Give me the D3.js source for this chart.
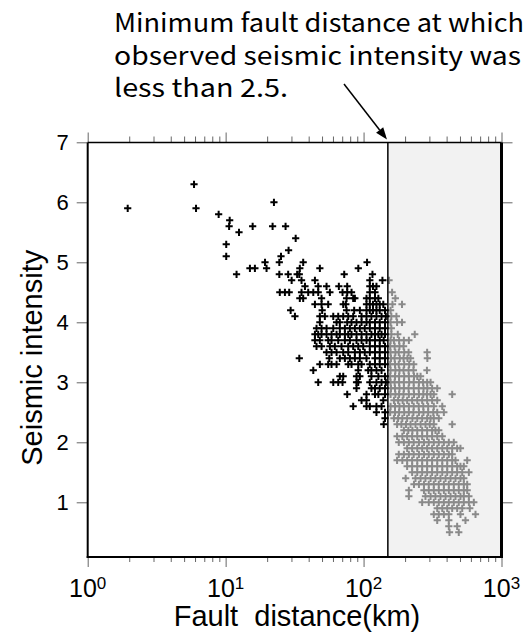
<!DOCTYPE html>
<html><head><meta charset="utf-8">
<script src="https://cdn.jsdelivr.net/npm/d3@7"></script>
<style>body{margin:0;background:#fff}svg{display:block}</style>
</head><body>
<svg id="c" width="528" height="639"></svg>
<script>
// ---- data ----
const thresholdKm = 150;
const intensityLevels = [6.3, 6.0, 5.9, 5.8, 5.7, 5.6, 5.5, 5.4, 5.3, 5.2, 5.1, 5.0, 4.9, 4.8, 4.7, 4.6, 4.5, 4.4, 4.3, 4.2, 4.1, 4.0, 3.9, 3.8, 3.7, 3.6, 3.5, 3.4, 3.3, 3.2, 3.1, 3.0, 2.9, 2.8, 2.7, 2.6, 2.5, 2.4, 2.3, 2.2, 2.1, 2.0, 1.9, 1.8, 1.7, 1.6, 1.5, 1.4, 1.3, 1.2, 1.1, 1.0, 0.9, 0.8, 0.7, 0.6, 0.5];
const distancesKm = [
  [5.9],
  [22.4],
  [1.95, 6.1],
  [8.9],
  [10.7],
  [10.6, 15.7, 21.9, 27.2],
  [12.5],
  [32.2],
  [10.1],
  [28.6],
  [10.1, 25.2],
  [19.3, 24.5, 36.5, 106],
  [15.0, 16.3, 19.8, 34.5, 48.2, 91.6],
  [12.0, 24.5, 28.4, 33.0, 34.2, 72.4, 116],
  [30.1, 35.5, 44.4, 111, 137, 153],
  [37.6, 46.9, 53.9, 66.2, 76.1, 111, 117, 124],
  [24.7, 26.9, 28.9, 35.5, 39.7, 43.2, 46.9, 57.0, 70.4, 76.1, 81.8, 111, 121, 161],
  [34.5, 36.5, 49.6, 75.3, 84.1, 86.5, 105, 111, 121, 128, 170],
  [44.4, 49.6, 55.4, 71.2, 74.4, 105, 111, 117, 124, 131, 139, 162, 190],
  [29.6, 50.1, 75.3, 85.5, 94.0, 105, 111, 117, 124, 131, 143, 157],
  [31.8, 48.2, 52.4, 60.3, 65.5, 71.2, 77.4, 84.1, 96.7, 105, 114, 124, 135, 145, 159, 173],
  [48.2, 63.7, 67.3, 76.1, 81.8, 88.9, 96.7, 105, 111, 121, 131, 143, 157, 175, 190],
  [45.6, 49.6, 53.9, 60.3, 67.3, 73.2, 79.6, 86.5, 94.0, 102, 111, 121, 131, 143, 159],
  [44.4, 46.9, 49.6, 53.9, 58.6, 63.7, 67.3, 73.2, 77.4, 81.8, 88.9, 96.7, 105, 114, 121, 128, 135, 143, 159, 177, 235],
  [44.4, 48.2, 55.4, 58.6, 65.5, 73.2, 79.6, 88.9, 96.7, 105, 111, 121, 131, 140, 157, 166, 181, 196, 213],
  [45.6, 49.6, 57.0, 61.9, 69.2, 77.4, 84.1, 91.5, 99.4, 111, 121, 131, 143, 156, 168, 182, 195],
  [53.9, 58.6, 63.7, 71.2, 77.4, 86.5, 94.0, 102, 111, 121, 131, 143, 157, 170, 180, 197, 212, 289],
  [34.2, 56.4, 67.3, 73.2, 79.6, 86.5, 94.0, 105, 121, 131, 143, 158, 168, 183, 195, 208, 219, 290],
  [48.2, 55.4, 58.6, 63.7, 77.4, 81.8, 91.5, 96.7, 111, 121, 131, 143, 156, 169, 180, 197, 214, 231],
  [43.2, 91.5, 108, 114, 124, 135, 157, 170, 182, 195, 212, 230, 288],
  [67.3, 71.2, 88.9, 94.0, 114, 128, 143, 156, 169, 181, 197, 213, 232, 245, 259],
  [46.9, 60.3, 65.5, 70.4, 88.9, 91.5, 111, 124, 135, 145, 157, 168, 181, 196, 214, 231, 252, 270, 289, 306],
  [88.9, 114, 121, 131, 143, 158, 169, 182, 196, 212, 231, 251, 272, 290, 314, 342],
  [76.1, 105, 121, 128, 143, 157, 170, 181, 195, 213, 232, 252, 271, 288, 306, 323, 439],
  [96.7, 105, 139, 166, 178, 192, 207, 225, 245, 266, 289, 314, 342],
  [84.1, 105, 111, 124, 135, 157, 169, 182, 196, 213, 231, 251, 271, 294, 323, 372],
  [124, 143, 156, 169, 181, 197, 213, 230, 252, 272, 294, 320, 342, 382],
  [143, 166, 178, 191, 207, 226, 245, 266, 289, 306, 323, 351],
  [140, 175, 188, 203, 219, 238, 259, 281, 302, 323, 439],
  [196, 211, 226, 245, 266, 289, 314, 332, 351],
  [175, 191, 207, 225, 245, 266, 289, 314, 342, 372],
  [180, 196, 213, 231, 252, 274, 297, 323, 351, 382, 415, 451],
  [207, 225, 245, 266, 289, 314, 342, 372, 404, 439, 477, 504],
  [180, 196, 213, 231, 252, 274, 297, 323, 351, 382, 415, 439],
  [175, 191, 207, 225, 245, 266, 289, 314, 342, 372, 404, 439, 464, 564],
  [207, 225, 245, 266, 289, 314, 342, 372, 404, 439, 477, 504, 533],
  [225, 245, 266, 289, 314, 342, 372, 404, 439, 477, 519, 580],
  [202, 238, 259, 281, 306, 332, 361, 393, 427, 464, 504, 533],
  [232, 252, 274, 297, 323, 351, 382, 415, 451, 490, 533, 564],
  [213, 274, 297, 323, 351, 382, 415, 451, 490, 533, 564],
  [213, 281, 306, 332, 361, 393, 427, 464, 504, 533, 580],
  [266, 297, 323, 351, 382, 415, 451, 490, 533, 580, 630],
  [342, 372, 404, 439, 477, 519, 589],
  [323, 351, 382, 415, 504, 648],
  [342, 415, 548],
  [415, 477],
  [420, 490]
];
const xMajorTicks = [1, 10, 100, 1000];
const xTickExponents = ["0", "1", "2", "3"];
const yTicks = [1, 2, 3, 4, 5, 6, 7];
const annotationLines = ["Minimum fault distance at which", "observed seismic intensity was", "less than 2.5."];

// ---- drawing ----
const svg = d3.select("#c");
const L = 87.7, R = 501.5, T = 142.5, B = 557;
const x = d3.scaleLog().domain([1, 1000]).range([L, R]);
const y = d3.scaleLinear().domain([0, 7]).range([562.3, 142.3]);

const points = [];
intensityLevels.forEach((iv, k) => distancesKm[k].forEach(d => points.push({d, i: iv})));

// shaded region beyond threshold
svg.append("rect").attr("x", x(thresholdKm)).attr("y", T).attr("width", R - x(thresholdKm)).attr("height", B - T).attr("fill", "#f2f2f2");

const plus = "M-3.6,0H3.6M0,-3.6V3.6";
svg.append("g").selectAll("path").data(points.filter(p => p.d >= thresholdKm)).join("path")
  .attr("transform", p => `translate(${x(p.d)},${y(p.i)})`).attr("d", plus)
  .attr("stroke", "#8a8a8a").attr("stroke-width", 2).attr("fill", "none");
svg.append("g").selectAll("path").data(points.filter(p => p.d < thresholdKm)).join("path")
  .attr("transform", p => `translate(${x(p.d)},${y(p.i)})`).attr("d", plus)
  .attr("stroke", "#000").attr("stroke-width", 2).attr("fill", "none");

// threshold line
svg.append("line").attr("x1", x(thresholdKm)).attr("x2", x(thresholdKm)).attr("y1", T).attr("y2", B)
  .attr("stroke", "#000").attr("stroke-width", 1.5);

// axes ticks
const minorTicks = [];
[1, 10, 100].forEach(dec => { for (let m = 2; m <= 9; m++) minorTicks.push(dec * m); });
function styleAxis(g) {
  g.select(".domain").remove();
  g.selectAll(".tick line").attr("stroke", "#666").attr("stroke-width", 1);
}
svg.append("g").attr("transform", `translate(0,${T})`).call(d3.axisTop(x).tickValues(xMajorTicks).tickSize(10).tickFormat("")).call(styleAxis);
svg.append("g").attr("transform", `translate(0,${T})`).call(d3.axisTop(x).tickValues(minorTicks).tickSize(6).tickFormat("")).call(styleAxis);
svg.append("g").attr("transform", `translate(0,${B})`).call(d3.axisBottom(x).tickValues(xMajorTicks).tickSize(10).tickFormat("")).call(styleAxis);
svg.append("g").attr("transform", `translate(0,${B})`).call(d3.axisBottom(x).tickValues(minorTicks).tickSize(5).tickFormat("")).call(styleAxis);

const yl = svg.append("g").attr("transform", `translate(${L},0)`)
  .call(d3.axisLeft(y).tickValues(yTicks).tickSize(11).tickPadding(8).tickFormat(d3.format("d"))).call(styleAxis);
yl.selectAll("text").attr("font-family", "'Liberation Sans', Arial, sans-serif").attr("font-size", 22).attr("fill", "#000");
svg.append("g").attr("transform", `translate(${R},0)`)
  .call(d3.axisRight(y).tickValues(yTicks).tickSize(11).tickFormat("")).call(styleAxis);

// x tick labels with superscripts
const xl = svg.append("g").attr("font-family", "'Liberation Sans', Arial, sans-serif").attr("fill", "#000");
xMajorTicks.forEach((v, k) => {
  const t = xl.append("text").attr("x", x(v)).attr("y", 597).attr("text-anchor", "middle").attr("font-size", 25);
  t.append("tspan").text("10");
  t.append("tspan").attr("dy", -8).attr("font-size", 17).text(xTickExponents[k]);
});

// frame
const frame = svg.append("g").attr("stroke", "#000").attr("fill", "none");
frame.append("line").attr("x1", L).attr("x2", L).attr("y1", T).attr("y2", B + 1).attr("stroke-width", 2);
frame.append("line").attr("x1", L - 1).attr("x2", R + 1.5).attr("y1", B).attr("y2", B).attr("stroke-width", 2);
frame.append("line").attr("x1", R).attr("x2", R).attr("y1", T).attr("y2", B + 1).attr("stroke-width", 3);
frame.append("line").attr("x1", L).attr("x2", R).attr("y1", T).attr("y2", T).attr("stroke-width", 1.5);

// axis titles
svg.append("text").attr("x", 297).attr("y", 626).attr("text-anchor", "middle")
  .attr("font-family", "'Liberation Sans', Arial, sans-serif").attr("font-size", 29).attr("fill", "#000")
  .attr("xml:space", "preserve").style("white-space", "pre").text("Fault  distance(km)");
svg.append("text").attr("transform", `translate(42,${(T + B) / 2 + 8}) rotate(-90)`).attr("text-anchor", "middle")
  .attr("font-family", "'Liberation Sans', Arial, sans-serif").attr("font-size", 29).attr("fill", "#000")
  .text("Seismic intensity");

// annotation
const ann = svg.append("g").attr("font-family", "'Noto Sans CJK JP', 'Noto Sans', sans-serif").attr("font-size", 25).attr("fill", "#000");
const annY = [32, 64.5, 97], annW = [410, 407, 174];
annotationLines.forEach((s, k) => {
  ann.append("text").attr("x", 114).attr("y", annY[k]).attr("textLength", annW[k]).attr("lengthAdjust", "spacingAndGlyphs").text(s);
});

// arrow
const tip = [387, 139.5], start = [344, 84];
const dx = tip[0] - start[0], dy = tip[1] - start[1], len = Math.hypot(dx, dy);
const ux = dx / len, uy = dy / len, hl = 12, hw = 4.5;
const bx = tip[0] - ux * hl, by = tip[1] - uy * hl;
svg.append("line").attr("x1", start[0]).attr("y1", start[1]).attr("x2", bx).attr("y2", by).attr("stroke", "#000").attr("stroke-width", 1.5);
svg.append("path").attr("d", `M${tip[0]},${tip[1]}L${bx + uy * hw},${by - ux * hw}L${bx - uy * hw},${by + ux * hw}Z`).attr("fill", "#000");
</script>
</body></html>
